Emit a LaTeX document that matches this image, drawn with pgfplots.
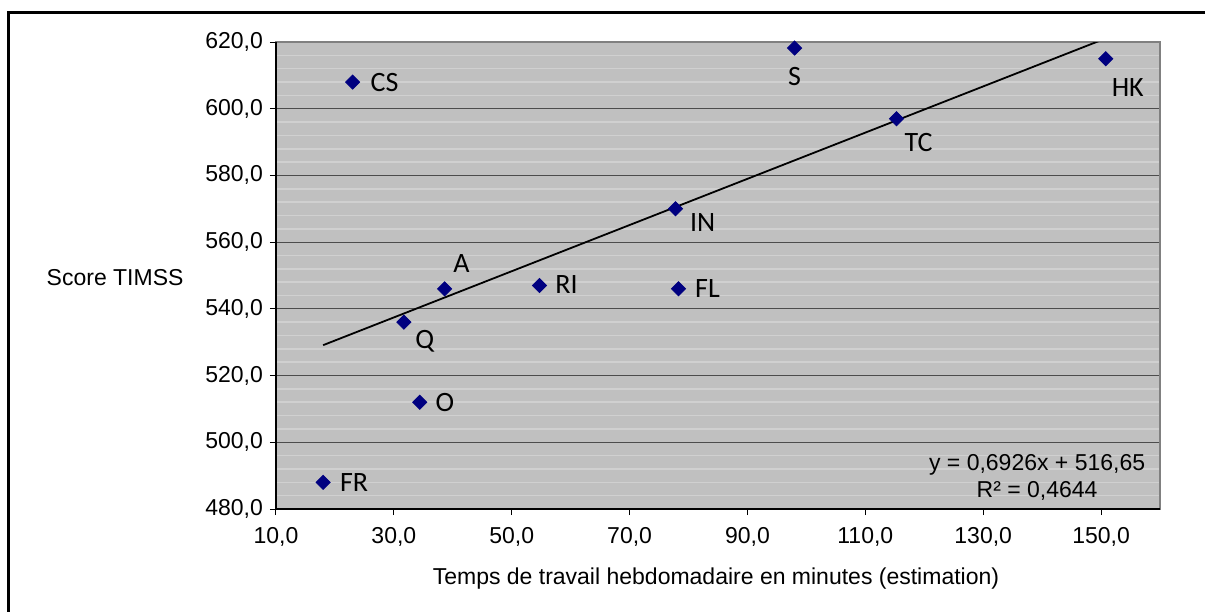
\documentclass[border=0pt]{standalone}
\usepackage{pgfplots}
\pgfplotsset{compat=1.18}
\usepackage{pgfplotstable}
\usepackage{fontspec}
\setmainfont{Liberation Sans}
\newfontfamily\lblfont{Carlito}
\definecolor{plotbg}{HTML}{C0C0C0}
\definecolor{minorgrid}{HTML}{D0D0D0}
\definecolor{navymark}{HTML}{000080}
\definecolor{framegray}{HTML}{808080}

\pgfplotstableread{
x y label dx dy
23.0 608 CS 16 0
98.0 618.2 S 0 -14.5
150.8 615 HK 11 -14.5
115.3 597 TC 11 -12
77.8 570 IN 13.5 -7
38.6 546 A 8.5 12.5
54.7 547 RI 13.5 0.5
78.3 546 FL 14.5 0
31.7 536 Q 10.5 -9.5
34.4 512 O 12.5 0
18.0 488 FR 15.5 0
}\datatable

\begin{document}
\begin{tikzpicture}
\useasboundingbox (-138pt,-51pt) rectangle (464.5pt,254.5pt);
\draw[line width=1.5pt] (-133.5pt,-53pt) -- (-133.5pt,248pt) -- (467pt,248pt);
\begin{axis}[
  at={(0pt,0pt)}, anchor=south west,
  scale only axis, width=442pt, height=233.5pt,
  xmin=10, xmax=160, ymin=480, ymax=620,
  xtick={10,30,...,150}, ytick={480,500,...,620},
  minor y tick num=4,
  xmajorgrids=false, xminorgrids=false,
  ymajorgrids, yminorgrids,
  major grid style={draw=black!70, line width=0.5pt},
  minor grid style={draw=minorgrid, line width=0.8pt},
  axis background/.style={fill=plotbg},
  axis line style={draw=framegray, line width=1pt},
  tick align=outside, major tick length=3pt, minor tick length=0pt,
  xtick pos=left, ytick pos=left,
  tick style={black, line width=0.5pt},
  tick label style={font=\fontsize{11.5}{13}\selectfont},
  /pgf/number format/.cd, fixed, fixed zerofill, precision=1, use comma, 1000 sep={}, assume math mode=true,
  /pgfplots/.cd,
  xticklabel style={yshift=-2.6pt},
  xlabel={Temps de travail hebdomadaire en minutes (estimation)},
  ylabel={Score TIMSS},
  every axis x label/.style={at={(axis description cs:0.4977,0)}, anchor=center, yshift=-35pt, font=\fontsize{11.5}{13}\selectfont},
  every axis y label/.style={at={(axis description cs:-0.182,0.4946)}, anchor=center, rotate=0, font=\fontsize{11.5}{13}\selectfont},
]
\addplot[black, line width=0.9pt] coordinates {(18.0,529.12) (150.8,621.09)};
\addplot[only marks, mark=square*, mark size=2.5pt,
  mark options={rotate=45, fill=navymark, draw=navymark},
  point meta=explicit symbolic,
  visualization depends on={\thisrow{dx} \as \dx},
  visualization depends on={\thisrow{dy} \as \dy},
  nodes near coords,
  every node near coord/.append style={font=\lblfont\fontsize{14}{16}\selectfont, text=black, anchor=center, inner sep=0pt, xshift=\dx pt, yshift=\dy pt},
] table[x=x, y=y, meta=label] {\datatable};
\node[align=center, inner sep=0pt, font=\fontsize{11.5}{13.5}\selectfont] at (axis cs:139.15,489.45) {y = 0,6926x + 516,65\\R² = 0,4644};
\end{axis}
\draw[black, line width=1pt] (0pt,233.5pt) -- (0pt,0pt) -- (442pt,0pt);
\end{tikzpicture}
\end{document}
